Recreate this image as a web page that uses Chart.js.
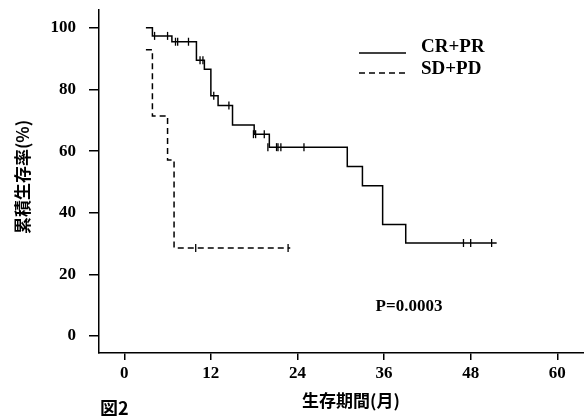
<!DOCTYPE html>
<html>
<head>
<meta charset="utf-8">
<script src="https://cdn.jsdelivr.net/npm/chart.js@4/dist/chart.umd.min.js"></script>
<style>
  body { margin: 0; background: #fff; }
  canvas { display: block; }
</style>
</head>
<body>
<canvas id="km" width="584" height="416"></canvas>
<script>
// Kaplan-Meier steps (months, % surviving)
const crTimes = [3.0, 3.9, 6.6, 10.0, 11.1, 12.0, 13.0, 15.0, 18.0, 20.1, 30.9, 33.0, 35.8, 39.0, 51.6];
const crValues = [100, 97.4, 95.5, 89.5, 86.6, 78.0, 74.8, 68.5, 65.5, 61.3, 55.0, 48.8, 36.2, 30.2, 30.2];
const crCensorTimes = [4.2, 6.0, 7.1, 7.4, 8.9, 10.5, 10.9, 12.4, 14.5, 17.9, 18.2, 19.4, 19.9, 21.1, 21.3, 21.7, 24.9, 47.0, 48.0, 50.9];
const crCensorValues = [97.4, 97.4, 95.5, 95.5, 95.5, 89.5, 89.5, 78.0, 74.8, 65.5, 65.5, 65.5, 61.3, 61.3, 61.3, 61.3, 61.3, 30.2, 30.2, 30.2];

const sdTimes = [3.0, 3.9, 6.0, 6.9, 23.0];
const sdValues = [92.9, 71.4, 57.1, 28.6, 28.6];
const sdCensorTimes = [9.9, 22.7];
const sdCensorValues = [28.6, 28.6];

const xTicks = [0, 12, 24, 36, 48, 60];
const yTicks = [0, 20, 40, 60, 80, 100];

const legendLabels = ["CR+PR", "SD+PD"];
const pValueText = "P=0.0003";
const xTitle = "生存期間(月)";
const yTitle = "累積生存率(%)";
const figLabel = "図2";

const serif = '"Liberation Serif", "Times New Roman", serif';
const cjk = '"Noto Sans CJK JP", sans-serif';

function pts(xs, ys) {
  return xs.map((x, i) => ({ x: x, y: ys[i] }));
}

// no extra room for edge labels, the plot box is fixed
function noPad(scale) {
  scale.paddingTop = 0;
  scale.paddingBottom = 0;
  scale.paddingLeft = 0;
  scale.paddingRight = 0;
}

const textPlugin = {
  id: "texts",
  afterDraw(chart) {
    const ctx = chart.ctx;
    ctx.save();
    ctx.fillStyle = "#000";
    ctx.strokeStyle = "#000";
    ctx.lineWidth = 1.5;

    // legend
    ctx.beginPath();
    ctx.moveTo(359, 53);
    ctx.lineTo(406, 53);
    ctx.stroke();
    ctx.setLineDash([6, 4]);
    ctx.beginPath();
    ctx.moveTo(359, 73);
    ctx.lineTo(406, 73);
    ctx.stroke();
    ctx.setLineDash([]);
    ctx.font = "bold 19px " + serif;
    ctx.textAlign = "left";
    ctx.textBaseline = "middle";
    ctx.fillText(legendLabels[0], 421, 47);
    ctx.fillText(legendLabels[1], 421, 69);

    ctx.textAlign = "center";
    ctx.font = "bold 17px " + serif;
    ctx.fillText(pValueText, 409, 307);

    ctx.font = "bold 17px " + cjk;
    ctx.fillText(xTitle, 351, 401);

    ctx.save();
    ctx.translate(23, 177);
    ctx.rotate(-Math.PI / 2);
    ctx.font = "bold 17px " + cjk;
    ctx.fillText(yTitle, 0, 0);
    ctx.restore();

    ctx.textAlign = "left";
    ctx.font = "bold 18px " + cjk;
    ctx.fillText(figLabel, 100, 408);
    ctx.restore();
  }
};

const censorStyle = {
  type: "scatter",
  showLine: false,
  pointStyle: "line",
  rotation: 90,
  pointRadius: 4,
  pointBorderWidth: 1.3,
  pointBorderColor: "#000",
  pointBackgroundColor: "#000"
};

new Chart(document.getElementById("km"), {
  type: "line",
  data: {
    datasets: [
      {
        label: legendLabels[0],
        data: pts(crTimes, crValues),
        stepped: "before",
        borderColor: "#000",
        borderWidth: 1.5,
        pointRadius: 0
      },
      {
        label: legendLabels[1],
        data: pts(sdTimes, sdValues),
        stepped: "before",
        borderColor: "#000",
        borderWidth: 1.5,
        borderDash: [6, 4],
        pointRadius: 0
      },
      Object.assign({ data: pts(crCensorTimes, crCensorValues) }, censorStyle),
      Object.assign({ data: pts(sdCensorTimes, sdCensorValues) }, censorStyle)
    ]
  },
  options: {
    responsive: false,
    animation: false,
    layout: { autoPadding: false, padding: { top: 10, left: 0, right: 0, bottom: 0 } },
    plugins: {
      legend: { display: false },
      tooltip: { enabled: false }
    },
    scales: {
      x: {
        type: "linear",
        min: -3.5,
        max: 63.7,
        afterBuildTicks: (scale) => {
          scale.ticks = xTicks.map((v) => ({ value: v }));
        },
        afterFit: (scale) => {
          scale.height = 63;
          noPad(scale);
        },
        border: { display: true, color: "#000", width: 1.5 },
        grid: {
          drawOnChartArea: false,
          drawTicks: true,
          tickLength: 7,
          color: "#000",
          lineWidth: 1.5
        },
        ticks: {
          color: "#000",
          padding: 3,
          maxRotation: 0,
          font: { family: serif, size: 17, weight: "bold" }
        }
      },
      y: {
        type: "linear",
        min: -5.5,
        max: 105.8,
        afterBuildTicks: (scale) => {
          scale.ticks = yTicks.map((v) => ({ value: v }));
        },
        afterFit: (scale) => {
          scale.width = 99;
          noPad(scale);
        },
        border: { display: true, color: "#000", width: 1.5 },
        grid: {
          drawOnChartArea: false,
          drawTicks: true,
          tickLength: 10,
          color: "#000",
          lineWidth: 1.5
        },
        ticks: {
          color: "#000",
          padding: 13,
          font: { family: serif, size: 17, weight: "bold" }
        }
      }
    }
  },
  plugins: [textPlugin]
});
</script>
</body>
</html>
